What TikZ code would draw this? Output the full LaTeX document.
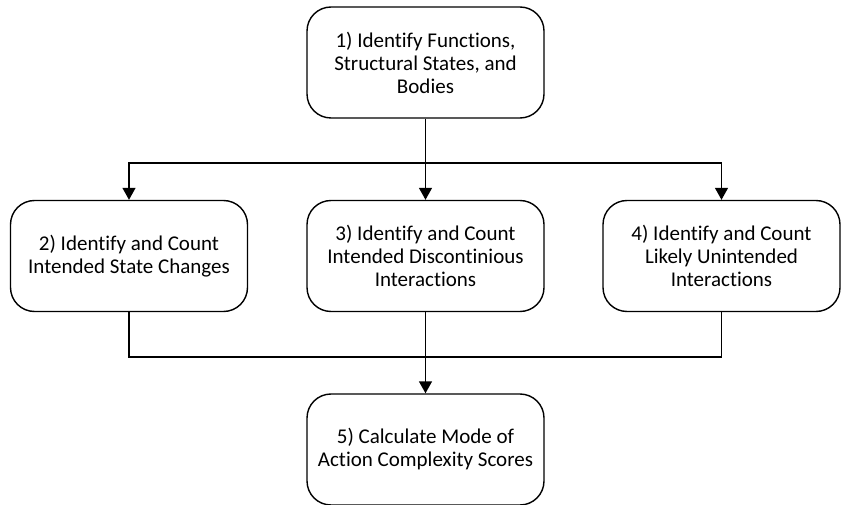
\documentclass[tikz,border=0pt]{standalone}
\usepackage{fontspec}
\setmainfont{Carlito}[Ligatures={NoCommon}]
\usetikzlibrary{arrows.meta}
\begin{document}
\begin{tikzpicture}[x=1pt,y=-1pt,
  box/.style={draw,line width=1.4pt,rounded corners=24pt,minimum width=237pt,minimum height=111pt,
    align=center,inner sep=0pt,font=\fontsize{21}{23}\selectfont},
  conn/.style={line width=1.4pt},
  arr/.style={conn,-{Triangle[width=13pt,length=12pt]}}]
\useasboundingbox (0,0) rectangle (841,505);
\node[box] (b1) at (425.5,62.5) {1) Identify Functions,\\Structural States, and\\Bodies};
\node[box] (b2) at (129,256) {2) Identify and Count\\Intended State Changes};
\node[box] (b3) at (425.5,256) {3) Identify and Count\\Intended Discontinious\\Interactions};
\node[box] (b4) at (721.5,256) {4) Identify and Count\\Likely Unintended\\Interactions};
\node[box] (b5) at (425.5,449.5) {5) Calculate Mode of\\Action Complexity Scores};
\coordinate (t) at (425.5,163);
\coordinate (u) at (425.5,357);
\draw[conn] (b1.south) -- (t);
\draw[arr] (t) -| (b2.north);
\draw[arr] (t) -| (b4.north);
\draw[arr] (t) -- (b3.north);
\draw[conn] (b2.south) |- (u);
\draw[conn] (b4.south) |- (u);
\draw[arr] (b3.south) -- (b5.north);
\end{tikzpicture}
\end{document}
